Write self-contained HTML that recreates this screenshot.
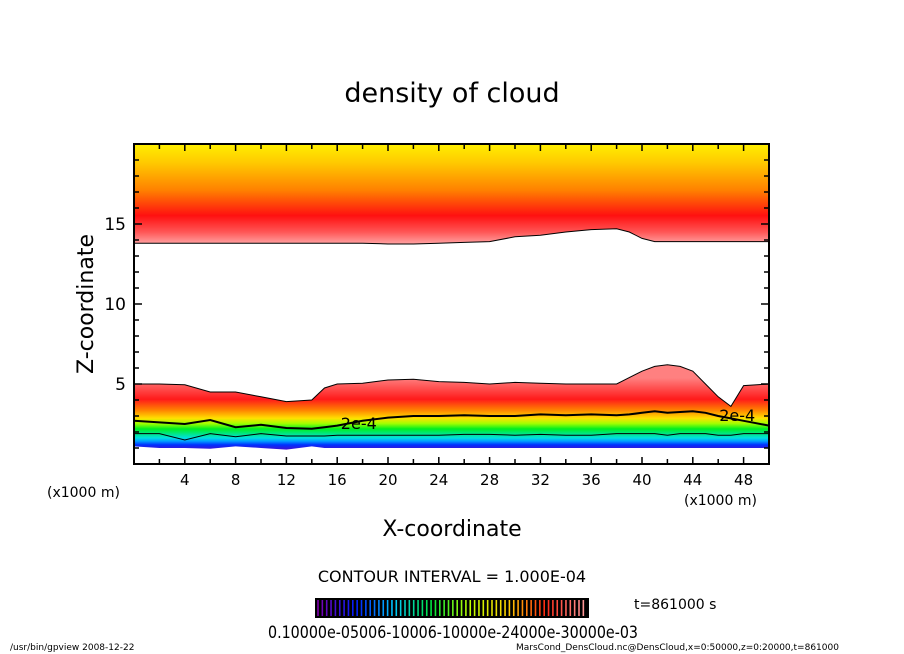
<!DOCTYPE html>
<html><head><meta charset="utf-8"><style>
html,body{margin:0;padding:0;background:#fff;}
svg{display:block;font-family:"DejaVu Sans","Liberation Sans",sans-serif;}
</style></head><body>
<svg id="chart" width="904" height="654" viewBox="0 0 904 654" xmlns="http://www.w3.org/2000/svg">
<defs>
<linearGradient id="gTop" gradientUnits="userSpaceOnUse" x1="0" y1="145" x2="0" y2="246">
<stop offset="0" stop-color="#ffee00"/><stop offset="0.18" stop-color="#ffc800"/><stop offset="0.45" stop-color="#ff8000"/>
<stop offset="0.7" stop-color="#ff1010"/><stop offset="0.86" stop-color="#ff5555"/><stop offset="1" stop-color="#ffb0b0"/>
</linearGradient>
<linearGradient id="gBot" gradientUnits="userSpaceOnUse" x1="0" y1="378" x2="0" y2="454">
<stop offset="0" stop-color="#ff8080"/><stop offset="0.28" stop-color="#ff1a1a"/>
<stop offset="0.42" stop-color="#ff8000"/><stop offset="0.53" stop-color="#ffe000"/><stop offset="0.6" stop-color="#a0ff00"/>
<stop offset="0.67" stop-color="#00ee20"/><stop offset="0.79" stop-color="#00e0e0"/><stop offset="0.83" stop-color="#00a0ff"/>
<stop offset="0.88" stop-color="#0030ff"/><stop offset="0.94" stop-color="#4010d0"/><stop offset="1" stop-color="#8000b0"/>
</linearGradient>
</defs>
<text x="452" y="102" font-size="27" text-anchor="middle">density of cloud</text>
<g id="plot"></g>
<text x="452" y="536" font-size="22" text-anchor="middle">X-coordinate</text>
<text transform="translate(93,304) rotate(-90)" font-size="22" text-anchor="middle">Z-coordinate</text>
<text x="47" y="497" font-size="14">(x1000 m)</text>
<text x="684" y="505" font-size="14">(x1000 m)</text>
<text x="452" y="582" font-size="16" text-anchor="middle">CONTOUR INTERVAL = 1.000E-04</text>
<text x="634" y="609" font-size="14">t=861000 s</text>
<rect x="315" y="598" width="274" height="20" fill="#000"/>
<g id="cbar"></g>
<text x="268" y="638" font-size="17" textLength="370" lengthAdjust="spacingAndGlyphs">0.10000e-05006-10006-10000e-24000e-30000e-03</text>
<text x="10" y="650" font-size="9">/usr/bin/gpview   2008-12-22</text>
<text x="516" y="650" font-size="9">MarsCond_DensCloud.nc@DensCloud,x=0:50000,z=0:20000,t=861000</text>
</svg>
<script>
// data
const xs = [0,2,4,6,8,10,12,14,15,16,18,20,22,24,26,28,30,32,34,36,38,39,40,41,42,43,44,45,46,47,48,50];
const topBoundary = [13.8,13.8,13.8,13.8,13.8,13.8,13.8,13.8,13.8,13.8,13.8,13.75,13.75,13.8,13.85,13.9,14.2,14.3,14.5,14.65,14.7,14.5,14.1,13.9,13.9,13.9,13.9,13.9,13.9,13.9,13.9,13.9];
const lowerTop = [5.0,5.0,4.95,4.5,4.5,4.2,3.9,4.0,4.75,5.0,5.05,5.25,5.3,5.15,5.1,5.0,5.1,5.05,5.0,5.0,5.0,5.4,5.8,6.1,6.2,6.1,5.8,5.0,4.2,3.6,4.9,5.0];
const lowerBottom = [1.1,1.0,1.0,0.95,1.1,1.0,0.9,1.1,1.0,1.0,1.0,1.0,1.0,1.0,1.0,1.0,1.0,1.0,1.0,1.0,1.0,1.0,1.0,1.0,1.0,1.0,1.0,1.0,1.0,1.0,1.0,1.0];
const contour2e4 = [2.7,2.6,2.5,2.75,2.3,2.45,2.25,2.2,2.3,2.4,2.7,2.9,3.0,3.0,3.05,3.0,3.0,3.1,3.05,3.1,3.05,3.1,3.2,3.3,3.2,3.25,3.3,3.2,3.0,2.85,2.7,2.4];
const contour1e4 = [1.9,1.9,1.5,1.9,1.7,1.9,1.75,1.75,1.75,1.8,1.8,1.8,1.8,1.8,1.85,1.85,1.8,1.85,1.8,1.8,1.9,1.9,1.9,1.9,1.8,1.9,1.9,1.9,1.8,1.8,1.9,1.9];
const xTicks = [4,8,12,16,20,24,28,32,36,40,44,48];
const yTicks = [5,10,15];
const cbarLevels = 62;

const NS="http://www.w3.org/2000/svg";
const X0=134,X1=769,Y0=464,Y1=144;
const sx=v=>X0+(X1-X0)*v/50, sy=v=>Y0-(Y0-Y1)*v/20;
const plot=document.getElementById('plot');
function mk(tag,attrs,parent){const e=document.createElementNS(NS,tag);for(const k in attrs)e.setAttribute(k,attrs[k]);(parent||plot).appendChild(e);return e;}
function line(arr){return xs.map((x,i)=>(i?'L':'M')+sx(x).toFixed(1)+','+sy(arr[i]).toFixed(1)).join('');}

let p=mk('path',{d:line(topBoundary)+`L${sx(50)},${sy(20)}L${sx(0)},${sy(20)}Z`,fill:'url(#gTop)',stroke:'#000','stroke-width':1});


let lb=xs.slice().reverse().map((x,j)=>{const i=xs.length-1-j;return 'L'+sx(x).toFixed(1)+','+sy(lowerBottom[i]).toFixed(1);}).join('');
p=mk('path',{d:line(lowerTop)+lb+'Z',fill:'url(#gBot)',stroke:'none'});


p=mk('path',{d:line(lowerTop),fill:'none',stroke:'#000','stroke-width':1});


p=mk('path',{d:line(contour2e4),fill:'none',stroke:'#000','stroke-width':2});


p=mk('path',{d:line(contour1e4),fill:'none',stroke:'#000','stroke-width':1});


[[17.7,2.55],[47.5,3.05]].forEach(c=>{
  const t=mk('text',{x:sx(c[0]),y:sy(c[1])+6,'font-size':16,'text-anchor':'middle'});
  t.textContent='2e-4';
  
  
});
// frame
p=mk('rect',{x:X0,y:Y1,width:X1-X0,height:Y0-Y1,fill:'none',stroke:'#000','stroke-width':2});


for(let v=2;v<50;v+=2){const x=sx(v);const L=v%4===0?7:5;mk('line',{x1:x,y1:Y0,x2:x,y2:Y0-L,stroke:'#000','stroke-width':1.5});mk('line',{x1:x,y1:Y1,x2:x,y2:Y1+L,stroke:'#000','stroke-width':1.5});}
for(let v=1;v<20;v++){const y=sy(v);const L=v%5===0?8:5;mk('line',{x1:X0,y1:y,x2:X0+L,y2:y,stroke:'#000','stroke-width':1.5});mk('line',{x1:X1,y1:y,x2:X1-L,y2:y,stroke:'#000','stroke-width':1.5});}
xTicks.forEach(v=>{const t=mk('text',{x:sx(v),y:485,'font-size':15,'text-anchor':'middle'});t.textContent=v;

});
yTicks.forEach(v=>{const t=mk('text',{x:126,y:sy(v)+6,'font-size':17,'text-anchor':'end'});t.textContent=v;

});
// colorbar
const cb=document.getElementById('cbar');
const cols=[[128,0,176],[0,30,255],[0,200,255],[0,230,60],[190,255,0],[255,210,0],[255,40,20],[255,150,150]];
for(let i=0;i<cbarLevels;i++){
  const f=i/(cbarLevels-1)*(cols.length-1);const a=Math.floor(Math.min(f,cols.length-2));const t=f-a;
  const c=cols[a].map((v,k)=>Math.round(v+(cols[a+1][k]-v)*t));
  const l=mk('line',{x1:318+i*4.35,y1:600,x2:318+i*4.35,y2:616,stroke:`rgb(${c})`,'stroke-width':1.6},cb);
  
  
}
</script>
</body></html>
